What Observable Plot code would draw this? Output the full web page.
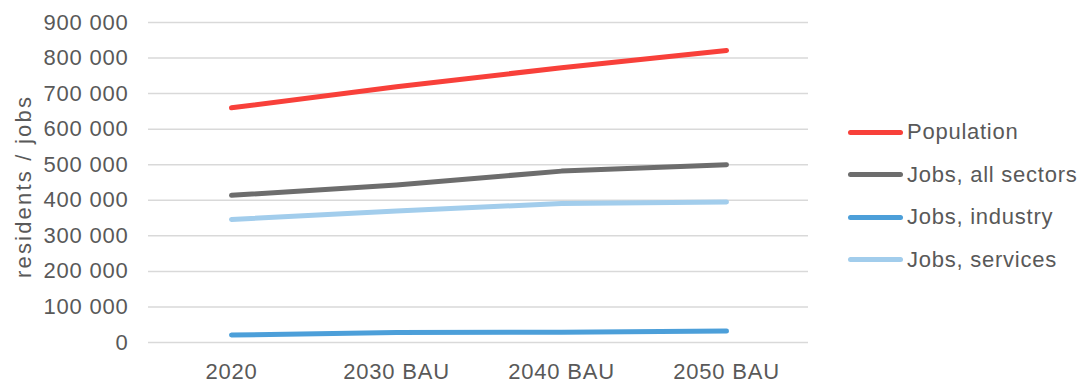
<!DOCTYPE html>
<html>
<head>
<meta charset="utf-8">
<script src="https://cdn.jsdelivr.net/npm/d3@7"></script>
<script src="https://cdn.jsdelivr.net/npm/@observablehq/plot@0.6"></script>
<style>
  html, body { margin: 0; padding: 0; background: #fff; }
  #chart { position: relative; width: 1085px; height: 382px; font-family: "Liberation Sans", Arial, sans-serif; color: #595959; }
  #chart svg text { letter-spacing: 0.8px; }
  #chart svg g[aria-label="text"] text { letter-spacing: 2.2px; }
  #legend { position: absolute; left: 848px; top: 111px; }
  .item { display: flex; align-items: center; height: 42.5px; font-size: 22px; letter-spacing: 0.75px; }
  .swatch { width: 55px; height: 5px; border-radius: 3px; margin-right: 4px; }
</style>
</head>
<body>
<div id="chart"><div id="legend"></div></div>
<script>
// Scenario categories along the x axis
const categories = ["2020", "2030 BAU", "2040 BAU", "2050 BAU"];

// Series values (residents / jobs)
const population   = [660000, 719000, 773000, 821000];
const jobsAll      = [414000, 443000, 482000, 500000];
const jobsIndustry = [21000, 28000, 29000, 32000];
const jobsServices = [346000, 370000, 391000, 395000];

const seriesNames  = ["Population", "Jobs, all sectors", "Jobs, industry", "Jobs, services"];
const seriesColors = ["#f8403a", "#6d6d6d", "#4c9fd9", "#a2cdec"];

// Y-axis ticks
const yTicks = [0, 100000, 200000, 300000, 400000, 500000, 600000, 700000, 800000, 900000];
const yLabel = "residents / jobs";

const seriesValues = [population, jobsAll, jobsIndustry, jobsServices];
const rows = [];
seriesNames.forEach((name, i) => {
  categories.forEach((c, j) => rows.push({series: name, category: c, value: seriesValues[i][j]}));
});

const fmt = d => d3.format(",")(d).replace(/,/g, " ");

const chart = Plot.plot({
  width: 830,
  height: 382,
  marginLeft: 148,
  marginRight: 22,
  marginTop: 22,
  marginBottom: 40,
  style: {fontFamily: "'Liberation Sans', Arial, sans-serif", color: "#595959", background: "#fff", overflow: "visible"},
  x: {type: "point", domain: categories, padding: 0.5, axis: null},
  y: {domain: [0, 900000], axis: null},
  color: {domain: seriesNames, range: seriesColors},
  marks: [
    Plot.ruleY(yTicks, {stroke: "#d9d9d9", strokeWidth: 1.5}),
    Plot.axisY(yTicks, {tickSize: 0, tickPadding: 20, tickFormat: fmt, fontSize: 22, label: null}),
    Plot.axisX(categories, {tickSize: 0, tickPadding: 21, fontSize: 22, label: null}),
    Plot.line([...rows].reverse(), {
      x: "category", y: "value", z: "series", stroke: "series",
      strokeWidth: 5, strokeLinecap: "round", strokeLinejoin: "round"
    }),
    // Rotated y-axis title
    Plot.text([yLabel], {
      frameAnchor: "left", textAnchor: "middle", rotate: -90, dx: -125, dy: 4,
      fontSize: 22, fill: "#595959"
    })
  ]
});
chart.style.position = "absolute";
chart.style.left = "0";
chart.style.top = "0";
document.getElementById("chart").prepend(chart);

// Legend: line swatches with series names
const legend = d3.select("#legend");
seriesNames.forEach((name, i) => {
  const item = legend.append("div").attr("class", "item");
  item.append("div").attr("class", "swatch").style("background", seriesColors[i]);
  item.append("span").text(name);
});
</script>
</body>
</html>
